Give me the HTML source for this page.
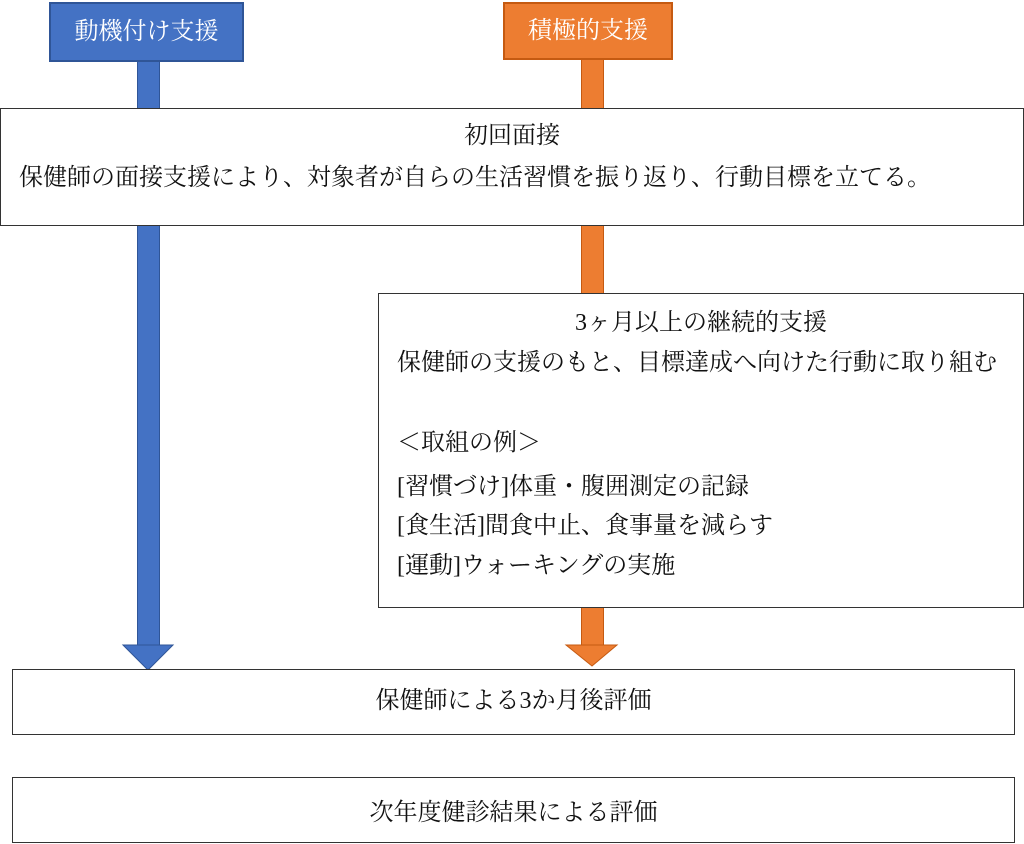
<!DOCTYPE html>
<html><head><meta charset="utf-8"><style>
body{margin:0;width:1024px;height:844px;background:#fff;position:relative;overflow:hidden;font-family:"Liberation Serif","Noto Serif CJK JP","Noto Serif CJK SC",serif;color:#111}
.a{position:absolute}
.box{position:absolute;border:1px solid #333;background:#fff;box-sizing:border-box}
.t{position:absolute;font-size:24px;white-space:nowrap;line-height:1}
.c{left:0;right:0;text-align:center}
</style></head><body>
<div class="a" style="left:137px;top:60px;width:23px;height:588px;background:#4472c4;border:1px solid #2f5597;box-sizing:border-box"></div>
<div class="a" style="left:581px;top:58px;width:23px;height:590px;background:#ed7d31;border:1px solid #c55a11;box-sizing:border-box"></div>
<svg class="a" style="left:0;top:0" width="1024" height="844">
<polygon points="123,645 173,645 148,670" fill="#4472c4" stroke="#2f5597"/>
<polygon points="566,645 617,645 592,666" fill="#ed7d31" stroke="#c55a11"/>
</svg>
<div class="a" style="left:49px;top:2px;width:195px;height:60px;background:#4472c4;border:2px solid #2f5597;box-sizing:border-box;color:#fff;font-size:24px;line-height:56px;text-align:center">動機付け支援</div>
<div class="a" style="left:503px;top:2px;width:170px;height:58px;background:#ed7d31;border:2px solid #c55a11;box-sizing:border-box;color:#fff;font-size:24px;line-height:54px;text-align:center">積極的支援</div>
<div class="box" style="left:0;top:108px;width:1024px;height:118px">
<div class="t c" style="top:15px">初回面接</div>
<div class="t" style="left:18px;top:57px">保健師の面接支援により、対象者が自らの生活習慣を振り返り、行動目標を立てる。</div>
</div>
<div class="box" style="left:378px;top:293px;width:646px;height:315px">
<div class="t c" style="top:17px">3ヶ月以上の継続的支援</div>
<div class="t" style="left:18px;top:57px">保健師の支援のもと、目標達成へ向けた行動に取り組む</div>
<div class="t" style="left:18px;top:137px">＜取組の例＞</div>
<div class="t" style="left:18px;top:181px">[習慣づけ]体重・腹囲測定の記録</div>
<div class="t" style="left:18px;top:220px">[食生活]間食中止、食事量を減らす</div>
<div class="t" style="left:18px;top:260px">[運動]ウォーキングの実施</div>
</div>
<div class="box" style="left:12px;top:669px;width:1003px;height:66px">
<div class="t c" style="top:19px">保健師による3か月後評価</div>
</div>
<div class="box" style="left:12px;top:777px;width:1003px;height:66px">
<div class="t c" style="top:23px">次年度健診結果による評価</div>
</div>
</body></html>
